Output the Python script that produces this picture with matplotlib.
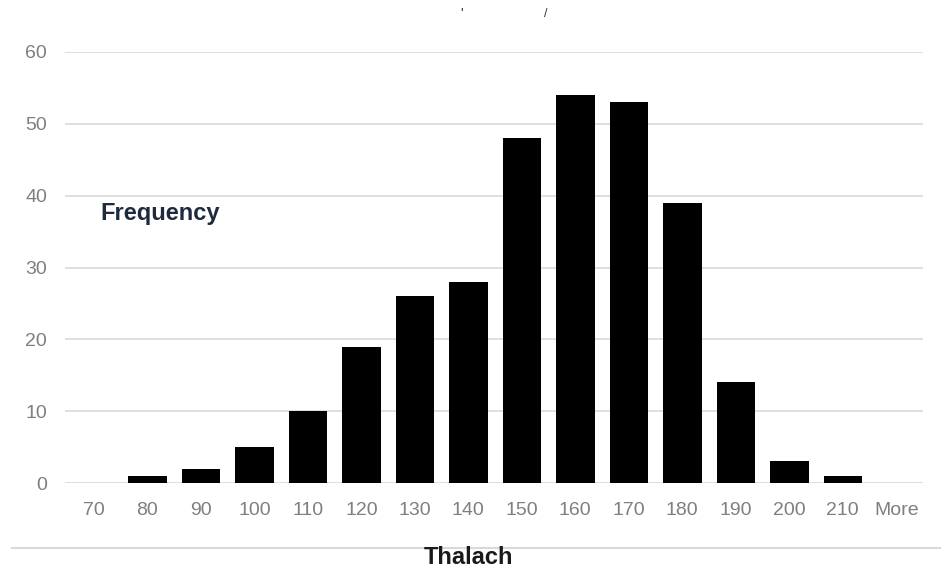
import matplotlib
matplotlib.use("Agg")
import matplotlib.pyplot as plt

bins = ["70", "80", "90", "100", "110", "120", "130", "140", "150", "160",
        "170", "180", "190", "200", "210", "More"]
frequency = [0, 1, 2, 5, 10, 19, 26, 28, 48, 54, 53, 39, 14, 3, 1, 0]
y_ticks = [0, 10, 20, 30, 40, 50, 60]

plt.rcParams["font.family"] = ["Liberation Sans", "DejaVu Sans"]

W, H = 941, 570
fig = plt.figure(figsize=(W / 100, H / 100), dpi=100)
# plot area in pixels: x 65..923, y 52 (top) .. 483 (baseline)
ax = fig.add_axes([65 / W, 1 - 483 / H, (923 - 65) / W, (483 - 52) / H])

x = list(range(len(bins)))
ax.bar(x, frequency, width=0.72, color="black", zorder=3)

ax.set_xlim(-0.54, len(bins) - 0.5)
ax.set_ylim(0, 60)
ax.set_yticks(y_ticks)
ax.set_xticks(x)
ax.set_xticklabels(bins)
ax.tick_params(axis="both", length=0, colors="#7f7f7f", labelsize=14)
ax.tick_params(axis="x", pad=14)
ax.tick_params(axis="y", pad=13)
ax.grid(axis="y", color="#d9d9d9", linewidth=1.2, zorder=0)
for side in ("top", "right", "left", "bottom"):
    ax.spines[side].set_visible(False)

fig.text(100 / W, 1 - 213 / H, "Frequency", fontsize=17, fontweight="bold",
         color="#1f2a40", va="center", ha="left")
fig.text(468 / W, 1 - 558 / H, "Thalach", fontsize=17, fontweight="bold",
         color="#1a1a1a", va="center", ha="center")
fig.add_artist(plt.Line2D([12 / W, 1.0], [1 - 548 / H, 1 - 548 / H],
                          color="#d9d9d9", linewidth=1.5))
fig.text(462 / W, 1 - 14 / H, "'", fontsize=10, color="#333333", ha="center", va="center")
fig.text(546 / W, 1 - 14 / H, "/", fontsize=9, color="#333333", ha="center", va="center")

fig.savefig("out.png", dpi=100)
